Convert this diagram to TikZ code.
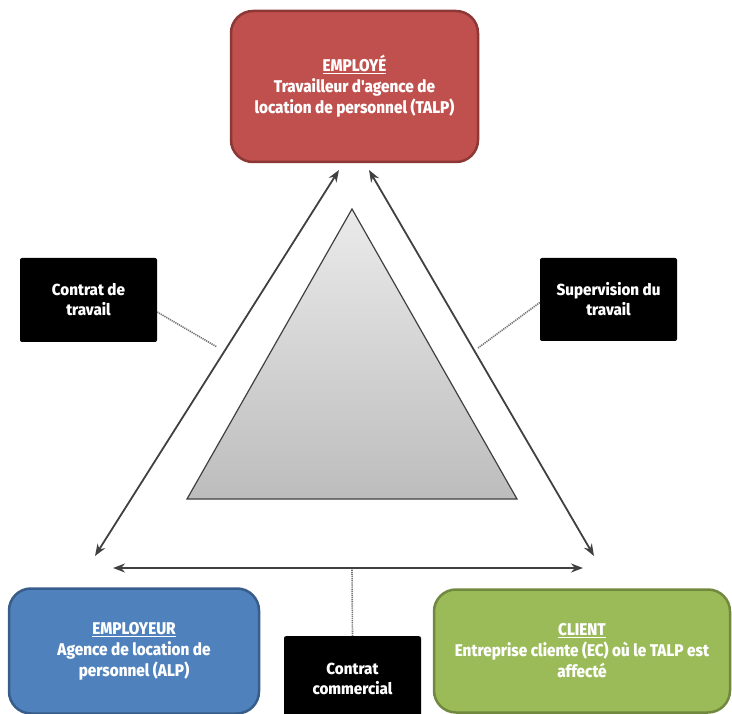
\documentclass[tikz,border=0pt]{standalone}
\usepackage{fontspec}
\setmainfont{Fira Sans}
\newfontfamily\partyfont{Fira Sans ExtraBold}[FakeStretch=0.9]
\newfontfamily\tagfont{Fira Sans ExtraBold}[FakeStretch=0.95]
\usetikzlibrary{arrows.meta}
\definecolor{talpred}{HTML}{C0504D}
\definecolor{talpredline}{HTML}{8C3836}
\definecolor{alpblue}{HTML}{4F81BD}
\definecolor{alpblueline}{HTML}{385D8A}
\definecolor{ecgreen}{HTML}{9BBB59}
\definecolor{ecgreenline}{HTML}{71893F}
\definecolor{linkgray}{HTML}{404040}

\begin{document}
\begin{tikzpicture}[x=1pt,y=-1pt,
  party/.style={draw, line width=2.5pt, rounded corners=22pt, text=white, align=center,
    font=\partyfont\fontsize{17}{21}\selectfont},
  tag/.style={fill=black, rounded corners=2pt, text=white, align=center,
    minimum width=137pt, font=\tagfont\fontsize{16}{20}\selectfont},
  link/.style={draw=linkgray, line width=1.8pt, {Stealth[length=12pt,width=9pt]}-{Stealth[length=12pt,width=9pt]}},
  note/.style={draw=black!55, line width=1.6pt, dash pattern=on 1.2pt off 0.9pt}]
  \useasboundingbox (0,0) rectangle (732,714);
  \clip (0,0) rectangle (732,714);

  % the three parties
  \node[party, fill=talpred, draw=talpredline, minimum width=247pt, minimum height=151pt] (emp) at (354.5,86.5)
    {\underline{EMPLOYÉ}\\Travailleur d'agence de\\location de personnel (TALP)};
  \node[party, fill=alpblue, draw=alpblueline, minimum width=250pt, minimum height=125pt] (alp) at (134,651)
    {\underline{EMPLOYEUR}\\Agence de location de\\personnel (ALP)};
  \node[party, fill=ecgreen, draw=ecgreenline, minimum width=296pt, minimum height=123pt] (ec) at (582,651)
    {\underline{CLIENT}\\Entreprise cliente (EC) où le TALP est\\affecté};

  % triangle in the middle
  \draw[draw=linkgray, line width=1.2pt, top color=black!8, bottom color=black!26]
    (352,209) -- (187,499) -- (517,499) -- cycle;

  % relations
  \coordinate (empl) at (339,170);
  \coordinate (empr) at (369,170);
  \coordinate (alpt) at (95,556);
  \coordinate (alpr) at (113,568);
  \coordinate (ecl) at (583,568);
  \coordinate (ect) at (594,556);
  \draw[link] (empl) -- (alpt);
  \draw[link] (empr) -- (ect);
  \draw[link] (alpr) -- (ecl);

  % labels
  \node[tag, minimum height=84pt] (travail) at (88.5,300) {Contrat de\\travail};
  \node[tag, minimum height=83pt] (superv) at (608.5,299.5) {Supervision du\\travail};
  \node[tag, minimum height=86pt, anchor=north] (commerce) at (352.5,636) {Contrat\\commercial};

  \coordinate (travailend) at (217,347);
  \coordinate (supervend) at (478,348);
  \coordinate (commerceend) at (352,569);
  \draw[note] ([yshift=-12pt]travail.east) -- (travailend);
  \draw[note] ([yshift=-3pt]superv.west) -- (supervend);
  \draw[note] (commerce.north) -- (commerceend);
\end{tikzpicture}
\end{document}
